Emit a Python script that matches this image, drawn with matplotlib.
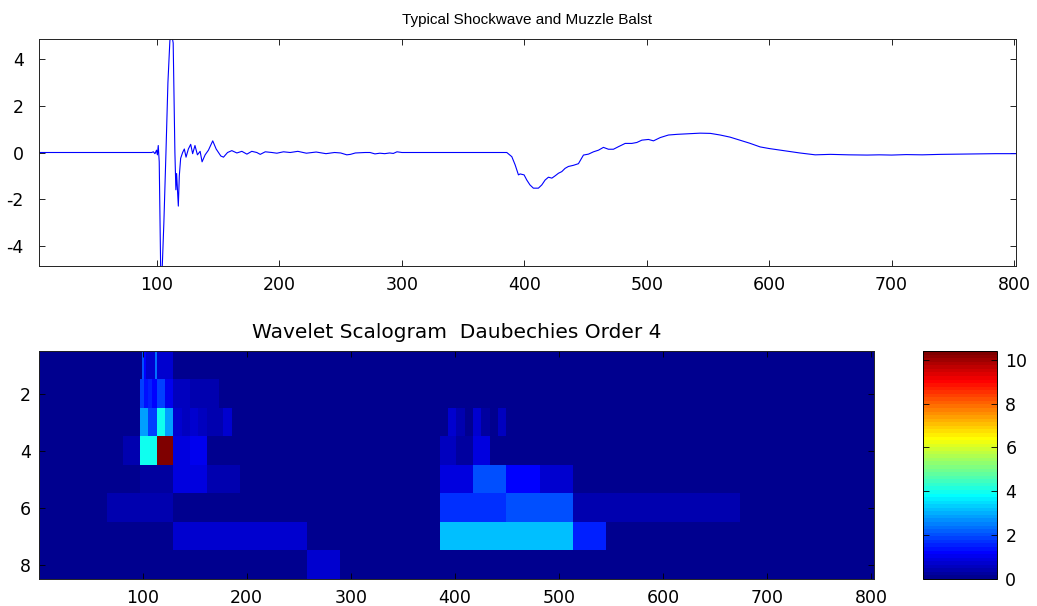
import numpy as np
import matplotlib
matplotlib.use("Agg")
import matplotlib.pyplot as plt
from matplotlib.colors import ListedColormap

# ---------------- data: signal ----------------
sig_x = [4, 95.6, 97, 98.3, 99.6, 100.3, 101, 101.8, 103.1, 104, 105.6, 107.3,
         108.9, 110.5, 111.9, 113.2, 114.6, 115.4, 116, 117.4, 118.2, 119.3,
         120.9, 122.3, 123.7, 125.6, 127.5, 129.1, 131, 133, 135.2, 136.8,
         139.3, 142, 145.5, 148.3, 152.1, 154.3, 157.6, 161.1, 165.2, 169.3,
         173.4, 177.4, 181.5, 184.3, 188.4, 193.8, 197.9, 203.3, 208.8, 215,
         222, 230, 238, 245, 250, 255, 258, 262, 270, 274, 278, 282, 286, 290,
         293, 296, 300, 385.7, 389.8, 392.5, 395.2, 396.6, 399.8, 402, 404.6,
         407.4, 411.5, 414.3, 417, 419.7, 422.5, 425.2, 427.9, 430.6, 433.3,
         436, 440.1, 444.2, 448.3, 452.4, 456.5, 460.6, 464.6, 468.7, 472.8,
         476.9, 482.4, 487.8, 491.9, 496, 501.4, 505.5, 511, 517.7, 525, 533,
         543.6, 552, 560, 568, 576, 584, 592.6, 600, 609, 617, 625, 637.6, 650,
         665, 680, 690, 700, 712, 725, 740, 755, 770, 785, 801.6]
sig_y = [0, 0, 0.03, -0.05, 0.1, -0.1, 0.3, -0.4, -5.5, -5.3, -3.0, 0.0,
         3.0, 4.8, 5.1, 4.7, 0.0, -1.6, -0.9, -2.3, -1.0, -0.25,
         0.0, 0.15, -0.2, 0.15, 0.35, -0.05, 0.3, -0.1, 0.05, -0.4,
         -0.1, 0.1, 0.5, 0.15, -0.15, -0.2, 0.0, 0.08, -0.02, 0.05,
         -0.07, 0.05, 0.0, -0.08, 0.03, 0.0, -0.03, 0.03, 0.0, 0.05,
         -0.03, 0.02, -0.05, 0.0, -0.02, -0.1, -0.08, -0.02, 0.0, 0.0, -0.06,
         -0.03, -0.05, -0.02, -0.04, 0.03, 0.0, 0.0, -0.18, -0.53, -0.96, -0.92,
         -0.96, -1.18, -1.39, -1.53, -1.53, -1.39, -1.18, -1.06, -1.1, -1.0,
         -0.89, -0.82, -0.68, -0.6, -0.55, -0.48, -0.11, -0.07, 0.03, 0.1, 0.22,
         0.14, 0.14, 0.25, 0.39, 0.39, 0.43, 0.53, 0.56, 0.5, 0.64, 0.75, 0.78,
         0.8, 0.83, 0.82, 0.75, 0.66, 0.53, 0.4, 0.24, 0.17, 0.1, 0.04, -0.02,
         -0.1, -0.08, -0.1, -0.11, -0.1, -0.11, -0.09, -0.1, -0.08, -0.07,
         -0.06, -0.05, -0.05]

# ---------------- data: scalogram blocks (level, x_start, x_end, value) ----
scal_levels = [1, 1, 1, 1, 1,
               2, 2, 2, 2, 2, 2, 2, 2,
               3, 3, 3, 3, 3, 3, 3, 3, 3, 3,
               4, 4, 4, 4, 4,
               5, 5, 5,
               6, 7, 8,
               3, 3, 3, 3, 3,
               4, 4, 4,
               5, 5, 5, 5,
               6, 6, 6,
               7, 7]
scal_start = [99, 101, 103, 111, 113,
              97, 101, 105, 109, 113, 121, 129, 145,
              97, 105, 113, 121, 129, 137, 145, 153, 161, 177,
              81, 97, 113, 129, 145,
              97, 129, 161,
              65, 129, 257,
              393, 401, 417, 425, 441,
              385, 401, 417,
              385, 417, 449, 481,
              385, 449, 513,
              385, 513]
scal_end = [101, 103, 111, 113, 129,
            101, 105, 109, 113, 121, 129, 145, 173,
            105, 113, 121, 129, 137, 145, 153, 161, 177, 185,
            97, 113, 129, 145, 161,
            129, 161, 193,
            129, 257, 289,
            401, 409, 425, 433, 449,
            401, 417, 433,
            417, 449, 481, 513,
            449, 513, 673,
            513, 545]
scal_value = [2.0, 1.2, 0.7, 2.4, 0.8,
              1.9, 1.4, 1.6, 1.2, 1.8, 1.1, 0.6, 0.45,
              2.85, 1.9, 3.9, 2.8, 0.7, 0.6, 0.7, 0.5, 0.4, 0.7,
              0.45, 3.95, 10.4, 0.85, 1.0,
              0.3, 0.85, 0.45,
              0.35, 0.75, 0.75,
              0.8, 0.35, 0.7, 0.3, 0.6,
              0.55, 0.3, 0.85,
              0.85, 2.05, 1.2, 0.8,
              1.75, 1.95, 0.4,
              3.1, 1.6]
n_levels = 8
n_cols = 802

x_ticks = [100, 200, 300, 400, 500, 600, 700, 800]
y_ticks_top = [-4, -2, 0, 2, 4]
y_ticks_bot = [2, 4, 6, 8]
cbar_ticks = [0, 2, 4, 6, 8, 10]

title_top = "Typical Shockwave and Muzzle Balst"
title_bot = "Wavelet Scalogram  Daubechies Order 4"


# ---------------- MATLAB-style jet(64) ----------------
def matlab_jet(m=64):
    n = int(np.ceil(m / 4))
    u = np.concatenate([np.arange(1, n + 1) / n, np.ones(n - 1), np.arange(n, 0, -1) / n])
    g = int(np.ceil(n / 2)) - (1 if m % 4 == 1 else 0) + np.arange(1, len(u) + 1)
    r = g + n
    b = g - n
    g = g[g <= m]
    r = r[r <= m]
    b = b[b >= 1]
    J = np.zeros((m, 3))
    J[r - 1, 0] = u[:len(r)]
    J[g - 1, 1] = u[:len(g)]
    J[b - 1, 2] = u[-len(b):]
    return ListedColormap(J)


cmap = matlab_jet(64)

# build scalogram matrix
S = np.zeros((n_levels, n_cols))
for lv, a, b, v in zip(scal_levels, scal_start, scal_end, scal_value):
    S[lv - 1, a:b] = v
vmax = S.max()

plt.rcParams['font.family'] = ['DejaVu Sans']

W, H = 1037, 606
fig = plt.figure(figsize=(W / 100, H / 100), dpi=100)


def rect(l, t, r, b):
    return [l / W, 1 - b / H, (r - l) / W, (b - t) / H]


tick_kw = dict(direction='in', length=4, width=0.6, top=True, right=True,
               labelsize=12.5, colors='black')

# ---------------- top axes ----------------
ax1 = fig.add_axes(rect(39, 39, 1016, 266))
ax1.plot(sig_x, sig_y, color='#0000ff', lw=0.8)
ax1.set_xlim(3.6, 801.6)
ax1.set_ylim(-4.87, 4.87)
ax1.set_xticks(x_ticks)
ax1.set_yticks(y_ticks_top)
ax1.set_yticklabels([str(v) for v in y_ticks_top])
ax1.tick_params(**tick_kw)
ax1.tick_params(axis='x', pad=7)
ax1.tick_params(axis='y', pad=11)
ax1.set_title(title_top, fontsize=11, pad=11, family=['Liberation Sans', 'DejaVu Sans'])
for s in ax1.spines.values():
    s.set_linewidth(0.7)
    s.set_color('#222222')

# ---------------- bottom axes ----------------
ax2 = fig.add_axes(rect(39, 351, 874, 579))
im = ax2.imshow(S, cmap=cmap, vmin=0, vmax=vmax, aspect='auto',
                interpolation='nearest', extent=[0.5, n_cols + 0.5, n_levels + 0.5, 0.5])
ax2.set_xlim(0.5, n_cols + 0.5)
ax2.set_ylim(n_levels + 0.5, 0.5)
ax2.set_xticks(x_ticks)
ax2.set_yticks(y_ticks_bot)
ax2.tick_params(**tick_kw)
ax2.tick_params(axis='x', pad=7)
ax2.tick_params(axis='y', pad=6)
ax2.set_title(title_bot, fontsize=14.5, pad=9)
for s in ax2.spines.values():
    s.set_linewidth(0.7)
    s.set_color('#222222')

# ---------------- colorbar ----------------
cax = fig.add_axes(rect(923, 351, 997, 579))
cb = fig.colorbar(im, cax=cax)
cb.set_ticks(cbar_ticks)
cax.tick_params(direction='in', length=4, width=0.6, left=True, right=True,
                labelsize=12.5, pad=6)
cb.outline.set_linewidth(0.7)

fig.savefig("out.png", dpi=100)
